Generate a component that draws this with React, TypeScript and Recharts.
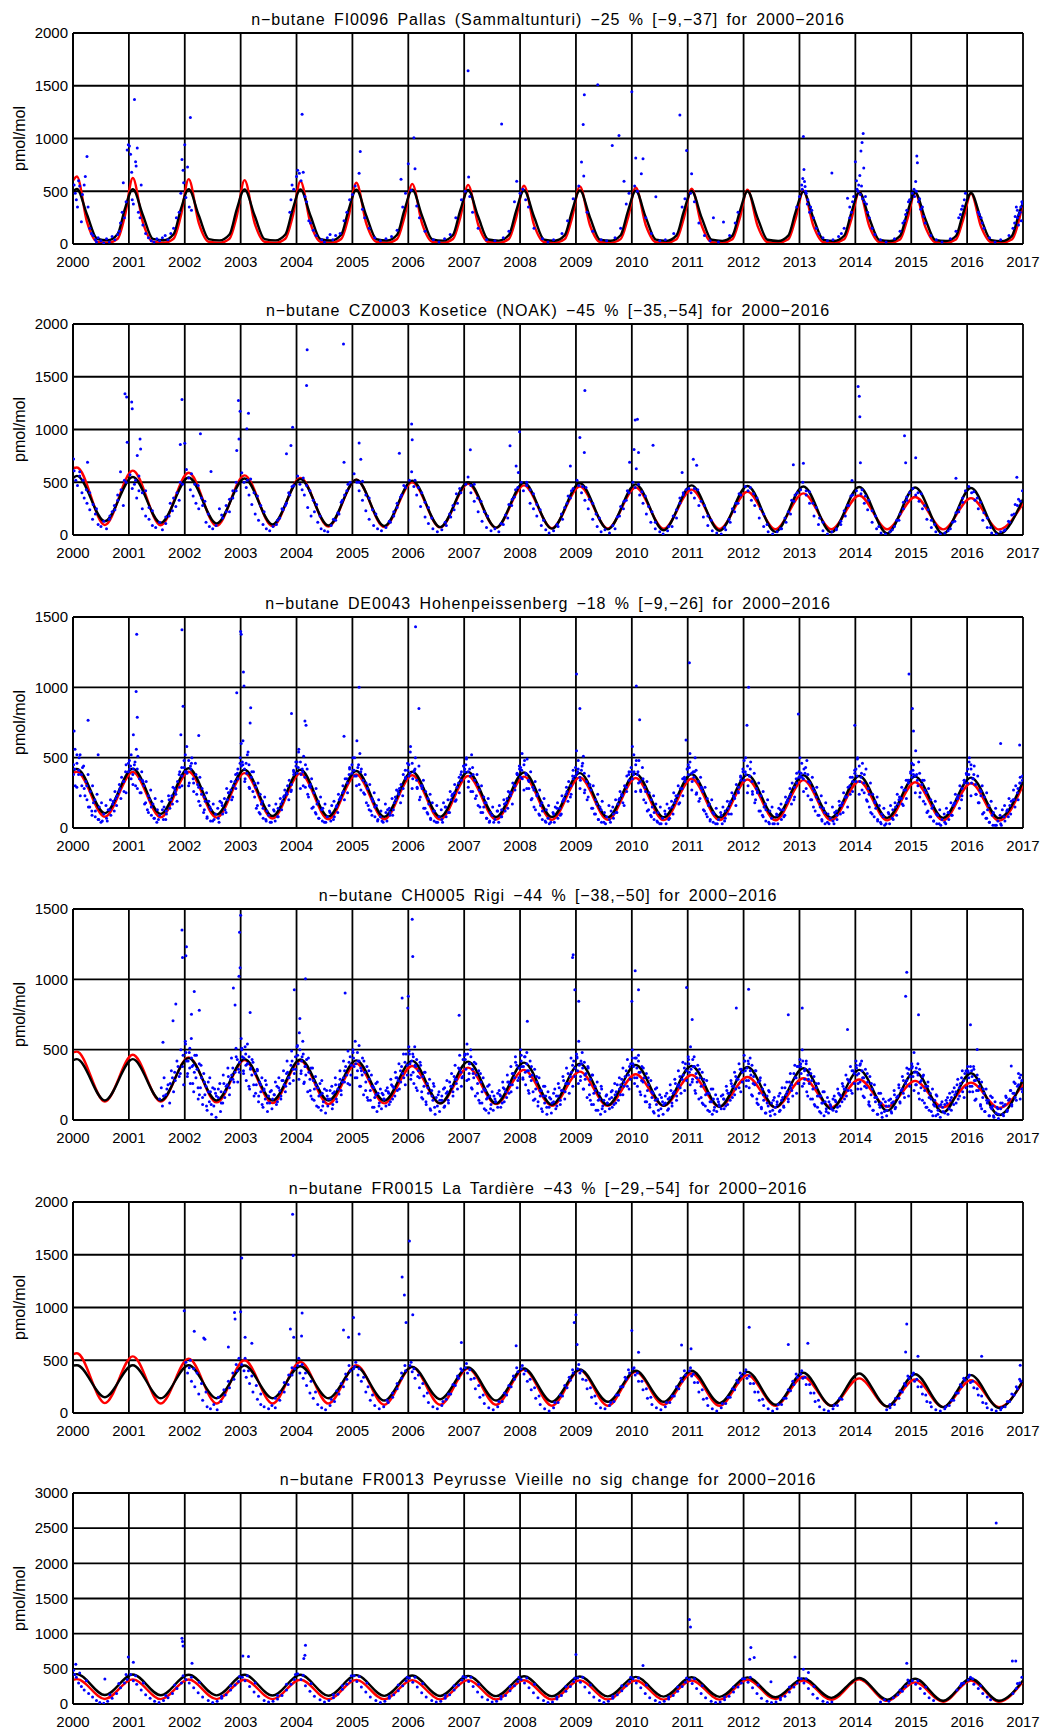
import React from "react";
import {
  ComposedChart,
  Scatter,
  Line,
  XAxis,
  YAxis,
  CartesianGrid,
} from "recharts";

// years of the fitted curves and x-axis ticks
const YEARS = [2000, 2001, 2002, 2003, 2004, 2005, 2006, 2007, 2008, 2009, 2010, 2011, 2012, 2013, 2014, 2015, 2016];
const YEAR_TICKS = [2000, 2001, 2002, 2003, 2004, 2005, 2006, 2007, 2008, 2009, 2010, 2011, 2012, 2013, 2014, 2015, 2016, 2017];

// sample positions within a year for the curves (fraction of the year)
const FI_PHASES = [0.07, 0.25, 0.43, 0.62, 0.8, 0.93];
const SINE_PHASES = [0.07, 0.57];

// ---------- FI0096 Pallas ----------
const fiBlack = [
  [522, 280, 50, 35, 95, 335], [520, 275, 48, 35, 92, 330], [520, 272, 47, 34, 90, 328], [518, 270, 46, 34, 90, 325],
  [518, 268, 45, 33, 88, 322], [515, 265, 45, 33, 88, 320], [515, 262, 44, 32, 86, 318], [512, 260, 43, 32, 85, 315],
  [510, 258, 42, 31, 84, 312], [508, 255, 42, 31, 83, 310], [505, 252, 41, 30, 82, 308], [502, 250, 40, 30, 80, 305],
  [500, 248, 40, 29, 80, 302], [496, 245, 39, 29, 78, 300], [492, 242, 38, 28, 77, 297], [488, 240, 38, 28, 76, 294],
  [484, 237, 37, 27, 75, 290],
];
const fiRed = [
  [640, 210, 22, 12, 50, 270], [625, 205, 22, 12, 50, 265], [615, 200, 21, 12, 50, 262], [605, 198, 21, 12, 50, 258],
  [595, 195, 20, 12, 48, 255], [580, 190, 20, 12, 48, 252], [570, 188, 20, 12, 47, 250], [560, 185, 19, 12, 47, 248],
  [552, 182, 19, 12, 46, 246], [545, 180, 19, 12, 46, 244], [535, 178, 18, 12, 45, 242], [525, 175, 18, 12, 45, 240],
  [515, 172, 18, 12, 44, 238], [505, 170, 17, 12, 44, 236], [495, 168, 17, 12, 43, 234], [485, 165, 17, 12, 43, 232],
  [478, 162, 16, 12, 42, 230],
];
const fiEnds = { black: [500, 395], red: [600, 405] };
const fiDots = [
  [2000.02,560],[2000.04,480],[2000.06,420],[2000.08,350],[2000.1,600],[2000.12,550],[2000.15,210],[2000.17,470],[2000.2,560],[2000.22,640],[2000.25,830],[2000.27,350],[2000.3,150],[2000.33,100],[2000.36,80],[2000.4,40],[2000.42,20],[2000.45,60],[2000.5,30],[2000.55,10],[2000.6,50],[2000.65,20],[2000.7,70],[2000.75,40],[2000.8,90],[2000.83,120],[2000.85,200],[2000.88,300],[2000.9,580],[2000.92,250],[2000.95,400],[2000.97,890],[2000.99,940],
  [2001.01,930],[2001.03,850],[2001.05,680],[2001.06,420],[2001.08,380],[2001.1,1370],[2001.12,780],[2001.13,740],[2001.15,910],[2001.17,300],[2001.2,250],[2001.22,560],[2001.25,180],[2001.3,100],[2001.35,60],[2001.4,30],[2001.45,20],[2001.5,50],[2001.55,30],[2001.6,60],[2001.65,80],[2001.7,40],[2001.75,100],[2001.8,150],[2001.85,250],[2001.9,300],[2001.93,480],[2001.95,800],[2001.97,700],[2001.98,580],
  [2002.0,940],[2002.02,440],[2002.05,730],[2002.08,350],[2002.1,1200],[2002.12,320],
  [2003.88,300],[2003.9,420],[2003.92,560],[2003.95,520],[2004.0,640],[2004.02,700],[2004.05,670],[2004.08,600],[2004.1,1230],[2004.12,680],[2004.15,450],[2004.18,400],[2004.22,220],[2004.25,200],[2004.3,130],[2004.35,80],[2004.45,40],[2004.5,20],[2004.55,60],[2004.6,90],[2004.65,40],[2004.7,80],[2004.78,100],[2004.85,220],[2004.9,300],[2004.95,420],
  [2005.0,470],[2005.05,550],[2005.12,670],[2005.14,877],[2005.18,330],[2005.22,250],[2005.3,150],[2005.4,60],[2005.5,30],[2005.6,50],[2005.7,70],[2005.8,130],[2005.87,613],[2005.9,350],[2005.95,480],
  [2006.0,761],[2006.05,510],[2006.1,1006],[2006.12,714],[2006.15,360],[2006.2,250],[2006.3,120],[2006.45,40],[2006.55,20],[2006.65,50],[2006.75,90],[2006.85,250],[2006.95,420],
  [2007.02,500],[2007.07,1642],[2007.08,635],[2007.1,450],[2007.15,300],[2007.25,150],[2007.4,40],[2007.55,30],[2007.67,1138],[2007.7,60],[2007.8,120],[2007.9,400],[2007.94,594],
  [2008.0,480],[2008.05,520],[2008.1,420],[2008.15,350],[2008.25,150],[2008.4,50],[2008.5,20],[2008.6,40],[2008.75,100],[2008.85,220],[2008.95,430],
  [2009.05,550],[2009.1,777],[2009.13,1132],[2009.14,645],[2009.15,1415],[2009.2,300],[2009.3,120],[2009.39,1510],[2009.45,40],[2009.55,30],[2009.65,934],[2009.7,60],[2009.77,1028],[2009.8,150],[2009.86,594],[2009.9,380],[2009.95,480],
  [2010.0,1443],[2010.05,550],[2010.07,815],[2010.1,500],[2010.17,667],[2010.2,808],[2010.25,250],[2010.35,100],[2010.43,447],[2010.5,30],[2010.6,40],[2010.75,100],[2010.86,1223],[2010.9,350],[2010.95,430],[2010.98,887],
  [2011.05,480],[2011.07,667],[2011.12,400],[2011.2,200],[2011.3,80],[2011.4,30],[2011.46,250],[2011.55,20],[2011.64,208],[2011.75,80],[2011.85,200],[2011.9,300],
  [2012.95,350],[2013.0,450],[2013.05,520],[2013.07,1019],[2013.08,705],[2013.09,593],[2013.1,545],[2013.12,480],[2013.15,420],[2013.2,350],[2013.25,250],[2013.3,150],[2013.35,100],[2013.42,60],[2013.5,30],[2013.58,673],[2013.6,40],[2013.7,70],[2013.75,100],[2013.8,150],[2013.86,433],[2013.9,350],[2013.95,400],
  [2014.0,779],[2014.02,600],[2014.05,500],[2014.08,650],[2014.1,881],[2014.12,961],[2014.14,1048],[2014.15,721],[2014.18,450],[2014.2,380],[2014.25,250],[2014.3,150],[2014.35,90],[2014.45,40],[2014.55,20],[2014.7,50],[2014.8,120],[2014.85,200],[2014.9,280],[2014.95,400],
  [2015.05,520],[2015.08,593],[2015.1,833],[2015.11,769],[2015.15,430],[2015.2,350],[2015.25,200],[2015.35,80],[2015.45,40],[2015.55,20],[2015.7,50],[2015.8,120],[2015.85,250],[2015.9,330],[2015.95,420],
  [2016.2,300],[2016.25,250],[2016.3,150],[2016.4,60],[2016.5,20],[2016.6,40],[2016.75,80],[2016.82,150],[2016.85,200],[2016.88,350],[2016.9,250],[2016.92,180],[2016.95,300],[2016.97,220],[2016.98,400],
  [2013.04,560],[2013.06,620],[2013.11,500],[2013.14,380],[2013.18,300],[2013.22,320],[2013.9,250],[2013.93,300],[2013.97,450],[2014.03,520],[2014.06,560],[2014.09,470],[2014.11,550],[2014.13,430],[2014.16,400],[2014.22,300],[2014.88,220],[2014.92,320],[2014.97,420],[2015.02,480],[2015.06,450],[2015.09,500],[2015.13,400],[2015.17,330],[2015.22,260],[2015.88,280],[2015.92,360],[2015.97,480],[2016.22,280],[2016.27,200],[2016.86,260],[2016.9,320],[2016.93,280],[2016.96,350],[2016.99,380],
];

// ---------- CZ0003 Kosetice ----------
const czBlackPeaks = [560, 550, 545, 535, 530, 525, 515, 500, 495, 490, 480, 470, 465, 460, 455, 450, 445];
const czBlackTroughs = [130, 115, 110, 100, 90, 85, 75, 70, 60, 55, 45, 40, 30, 25, 15, 10, 10];
const czRedPeaks = [640, 610, 590, 565, 540, 525, 500, 485, 470, 460, 450, 430, 410, 395, 375, 360, 350];
const czRedTroughs = [95, 92, 88, 84, 80, 76, 72, 68, 64, 62, 60, 58, 56, 55, 54, 53, 52];
const czEnds = { black: [540, 340], red: [635, 300] };
const czDots = [
  [2000.02,610],[2000.05,520],[2000.08,470],[2000.12,560],[2000.16,400],[2000.2,350],[2000.25,300],[2000.3,240],[2000.35,150],[2000.4,200],[2000.45,100],[2000.5,80],[2000.55,130],[2000.6,60],[2000.65,150],[2000.7,220],[2000.75,240],[2000.8,380],[2000.85,600],[2000.9,280],[2000.95,500],
  [2001.02,570],[2001.06,440],[2001.1,480],[2001.14,350],[2001.18,420],[2001.24,250],[2001.3,180],[2001.36,150],[2001.42,90],[2001.48,70],[2001.55,120],[2001.6,50],[2001.66,110],[2001.72,180],[2001.78,230],[2001.84,270],[2001.9,330],[2001.96,480],
  [2002.03,620],[2002.07,540],[2002.1,430],[2002.15,370],[2002.2,300],[2002.25,250],[2002.32,280],[2002.38,120],[2002.44,80],[2002.5,60],[2002.56,90],[2002.62,250],[2002.68,160],[2002.74,280],[2002.8,220],[2002.86,350],[2002.92,420],
  [2003.02,590],[2003.06,500],[2003.1,450],[2003.15,380],[2003.2,290],[2003.26,200],[2003.32,140],[2003.4,100],[2003.46,60],[2003.52,40],[2003.58,80],[2003.64,100],[2003.7,160],[2003.76,240],[2003.82,300],[2003.88,380],[2003.95,470],
  [2004.02,560],[2004.06,480],[2004.1,430],[2004.14,380],[2004.2,260],[2004.26,180],[2004.32,220],[2004.38,120],[2004.44,60],[2004.5,40],[2004.56,30],[2004.62,90],[2004.7,140],[2004.76,200],[2004.82,330],[2004.9,420],[2004.96,500],
  [2005.03,580],[2005.08,500],[2005.12,420],[2005.18,330],[2005.24,230],[2005.3,150],[2005.38,90],[2005.45,60],[2005.52,40],[2005.6,70],[2005.68,120],[2005.74,180],[2005.8,260],[2005.88,380],[2005.95,450],
  [2006.02,520],[2006.06,600],[2006.1,460],[2006.15,380],[2006.22,270],[2006.3,170],[2006.36,110],[2006.44,60],[2006.52,30],[2006.6,50],[2006.68,90],[2006.76,170],[2006.82,240],[2006.88,300],[2006.94,400],
  [2007.03,480],[2007.07,550],[2007.12,400],[2007.18,320],[2007.25,220],[2007.32,130],[2007.4,70],[2007.48,40],[2007.55,60],[2007.62,30],[2007.7,100],[2007.78,160],[2007.85,280],[2007.9,360],[2007.96,450],
  [2008.02,500],[2008.06,420],[2008.12,470],[2008.18,300],[2008.24,250],[2008.3,180],[2008.38,90],[2008.46,50],[2008.52,20],[2008.6,40],[2008.68,80],[2008.76,150],[2008.84,300],[2008.9,350],[2008.95,440],
  [2009.02,520],[2009.05,470],[2009.1,400],[2009.16,330],[2009.22,250],[2009.3,150],[2009.38,80],[2009.45,30],[2009.52,50],[2009.6,20],[2009.7,60],[2009.78,180],[2009.85,250],[2009.9,330],[2009.95,400],
  [2010.02,500],[2010.06,450],[2010.14,380],[2010.2,300],[2010.26,200],[2010.34,120],[2010.42,60],[2010.5,30],[2010.56,10],[2010.64,40],[2010.72,80],[2010.8,160],[2010.86,300],[2010.92,380],[2010.97,430],
  [2011.02,440],[2011.06,400],[2011.12,350],[2011.2,280],[2011.28,170],[2011.36,90],[2011.44,40],[2011.52,20],[2011.6,10],[2011.68,50],[2011.76,120],[2011.84,220],[2011.9,300],[2011.95,380],
  [2012.03,460],[2012.08,420],[2012.14,330],[2012.2,280],[2012.28,160],[2012.36,80],[2012.44,30],[2012.52,10],[2012.6,30],[2012.68,60],[2012.76,120],[2012.84,200],[2012.9,320],[2012.96,400],
  [2013.02,430],[2013.06,500],[2013.12,380],[2013.18,300],[2013.26,180],[2013.34,100],[2013.42,40],[2013.5,10],[2013.58,30],[2013.66,60],[2013.74,100],[2013.82,180],[2013.88,280],[2013.95,380],
  [2014.02,420],[2014.1,390],[2014.16,300],[2014.22,240],[2014.3,120],[2014.38,60],[2014.46,20],[2014.54,10],[2014.62,30],[2014.7,80],[2014.78,140],[2014.86,250],[2014.92,330],[2014.97,400],
  [2015.03,440],[2015.08,380],[2015.14,320],[2015.2,250],[2015.28,150],[2015.36,70],[2015.44,30],[2015.52,10],[2015.6,20],[2015.7,60],[2015.78,130],[2015.85,220],[2015.92,310],[2015.97,420],
  [2016.03,460],[2016.08,400],[2016.14,330],[2016.2,250],[2016.28,140],[2016.36,70],[2016.44,20],[2016.52,10],[2016.6,30],[2016.68,50],[2016.76,120],[2016.84,200],[2016.9,280],[2016.95,320],[2016.99,420],
  // upper side of the cloud
  [2000.12,600],[2000.18,520],[2000.24,430],[2000.3,400],[2000.36,290],[2000.42,250],[2000.66,180],[2000.74,280],[2000.8,330],[2000.86,430],[2000.92,520],
  [2001.12,520],[2001.18,560],[2001.24,400],[2001.3,420],[2001.36,260],[2001.42,230],[2001.66,170],[2001.74,300],[2001.8,350],[2001.86,400],[2001.92,500],
  [2002.12,580],[2002.18,480],[2002.24,470],[2002.3,350],[2002.36,320],[2002.42,200],[2002.66,190],[2002.74,220],[2002.8,340],[2002.86,420],[2002.92,500],
  [2003.12,520],[2003.18,530],[2003.24,400],[2003.3,370],[2003.36,280],[2003.42,220],[2003.66,140],[2003.74,250],[2003.8,280],[2003.86,400],[2003.92,460],
  [2004.12,540],[2004.18,470],[2004.24,420],[2004.3,330],[2004.36,290],[2004.42,180],[2004.66,150],[2004.74,210],[2004.8,310],[2004.86,380],[2004.92,480],
  [2005.12,500],[2005.18,510],[2005.24,380],[2005.3,350],[2005.36,240],[2005.42,200],[2005.66,130],[2005.74,220],[2005.8,300],[2005.86,360],[2005.92,470],
  [2006.12,520],[2006.18,450],[2006.24,400],[2006.3,310],[2006.36,260],[2006.42,160],[2006.66,120],[2006.74,200],[2006.8,280],[2006.86,390],[2006.92,440],
  [2007.12,470],[2007.18,480],[2007.24,350],[2007.3,320],[2007.36,220],[2007.42,180],[2007.66,110],[2007.74,190],[2007.8,290],[2007.86,340],[2007.92,430],
  [2008.12,500],[2008.18,430],[2008.24,390],[2008.3,290],[2008.36,240],[2008.42,140],[2008.66,100],[2008.74,200],[2008.8,260],[2008.86,370],[2008.92,420],
  [2009.12,460],[2009.18,450],[2009.24,340],[2009.3,300],[2009.36,200],[2009.42,160],[2009.66,90],[2009.74,170],[2009.8,270],[2009.86,320],[2009.92,420],
  [2010.12,480],[2010.18,410],[2010.24,370],[2010.3,270],[2010.36,220],[2010.42,120],[2010.66,80],[2010.74,180],[2010.8,240],[2010.86,350],[2010.92,400],
  [2011.12,440],[2011.18,430],[2011.24,320],[2011.3,280],[2011.36,180],[2011.42,140],[2011.66,70],[2011.74,150],[2011.8,250],[2011.86,300],[2011.92,390],
  [2012.12,450],[2012.18,390],[2012.24,350],[2012.3,250],[2012.36,200],[2012.42,100],[2012.66,60],[2012.74,160],[2012.8,220],[2012.86,330],[2012.92,380],
  [2013.12,420],[2013.18,410],[2013.24,300],[2013.3,260],[2013.36,160],[2013.42,120],[2013.66,50],[2013.74,130],[2013.8,230],[2013.86,280],[2013.92,370],
  [2014.12,430],[2014.18,370],[2014.24,330],[2014.3,230],[2014.36,180],[2014.42,80],[2014.66,50],[2014.74,140],[2014.8,200],[2014.86,310],[2014.92,360],
  [2015.12,400],[2015.18,390],[2015.24,280],[2015.3,240],[2015.36,140],[2015.42,100],[2015.66,40],[2015.74,120],[2015.8,210],[2015.86,260],[2015.92,350],
  [2016.12,410],[2016.18,350],[2016.24,310],[2016.3,210],[2016.36,160],[2016.42,70],[2016.66,40],[2016.74,130],[2016.8,190],[2016.86,290],[2016.92,340],
  // high values
  [2000.93,1339],[2000.96,1307],[2001.05,1260],[2001.06,1196],[2000.97,880],[2001.2,911],[2001.21,816],[2001.15,753],[2001.95,1285],[2002.0,870],[2001.92,858],[2002.28,959],[2002.47,601],[2002.96,1275],[2002.99,1174],[2002.97,911],[2002.93,800],[2003.14,1155],[2003.11,1006],[2003.82,769],[2003.93,1022],[2004.19,1757],[2004.18,1418],[2003.9,848],[2004.84,1810],[2004.85,690],[2000.26,690],[2000.01,721],
  [2006.06,1053],[2006.07,904],[2005.12,873],[2005.15,718],[2005.84,776],[2007.11,807],[2007.82,845],[2007.99,979],[2007.93,655],[2007.97,593],[2009.16,1370],[2009.07,925],[2009.15,781],[2008.9,655],[2010.1,1097],[2010.06,1090],[2010.04,810],[2010.12,781],[2010.38,851],[2009.96,689],[2010.08,627],[2010.9,593],[2011.16,662],[2011.1,718],[2012.89,665],[2013.07,680],[2014.05,1407],[2014.07,1314],[2014.08,1121],[2014.09,684],[2014.88,940],[2015.08,733],[2014.9,684],[2013.94,516],[2015.8,538],[2016.89,547],
];

// ---------- DE0043 Hohenpeissenberg ----------
const deBlackPeaks = [420, 421, 425, 414, 414, 405, 400, 398, 395, 390, 385, 382, 378, 375, 370, 365, 358];
const deBlackTroughs = [105, 100, 95, 85, 82, 80, 80, 78, 78, 76, 76, 75, 75, 74, 72, 72, 70];
const deRedPeaks = [400, 398, 400, 390, 388, 380, 375, 370, 365, 360, 355, 350, 345, 340, 332, 325, 318];
const deRedTroughs = [80, 76, 74, 68, 62, 62, 60, 60, 58, 58, 56, 56, 55, 55, 54, 54, 52];
const deEnds = { black: [410, 330], red: [390, 305] };
const deDots = [
  [2000.01,450],[2000.04,300],[2000.07,520],[2000.1,380],[2000.13,230],[2000.17,430],[2000.2,280],[2000.25,200],[2000.3,150],[2000.34,90],[2000.4,120],[2000.45,60],[2000.5,40],[2000.55,100],[2000.6,70],[2000.66,130],[2000.72,190],[2000.78,160],[2000.84,280],[2000.9,330],[2000.95,250],
  [2001.01,480],[2001.04,350],[2001.08,420],[2001.12,300],[2001.16,510],[2001.2,250],[2001.25,330],[2001.3,180],[2001.35,110],[2001.4,150],[2001.45,70],[2001.5,40],[2001.55,90],[2001.6,130],[2001.66,60],[2001.72,200],[2001.78,170],[2001.84,240],[2001.9,380],[2001.95,300],
  [2002.01,520],[2002.04,390],[2002.08,320],[2002.12,460],[2002.16,260],[2002.2,380],[2002.25,190],[2002.3,240],[2002.35,130],[2002.4,80],[2002.45,150],[2002.5,50],[2002.55,100],[2002.6,70],[2002.66,180],[2002.72,130],[2002.78,250],[2002.84,200],[2002.9,330],[2002.95,420],
  [2003.01,600],[2003.04,450],[2003.08,350],[2003.12,520],[2003.16,280],[2003.2,400],[2003.25,220],[2003.3,160],[2003.35,100],[2003.4,140],[2003.45,60],[2003.5,90],[2003.55,40],[2003.6,120],[2003.66,80],[2003.72,170],[2003.78,230],[2003.84,300],[2003.9,260],[2003.95,380],
  [2004.01,470],[2004.04,560],[2004.08,380],[2004.12,300],[2004.16,450],[2004.2,240],[2004.25,310],[2004.3,150],[2004.35,100],[2004.4,70],[2004.45,130],[2004.5,40],[2004.55,80],[2004.6,110],[2004.66,60],[2004.72,160],[2004.78,210],[2004.84,260],[2004.9,350],[2004.95,420],
  [2005.01,500],[2005.04,370],[2005.08,620],[2005.12,310],[2005.16,420],[2005.2,250],[2005.25,180],[2005.3,130],[2005.35,90],[2005.4,150],[2005.45,50],[2005.5,80],[2005.55,40],[2005.6,110],[2005.66,140],[2005.72,90],[2005.78,200],[2005.84,280],[2005.9,230],[2005.95,360],
  [2006.01,450],[2006.04,580],[2006.08,350],[2006.12,420],[2006.16,280],[2006.2,200],[2006.25,300],[2006.3,140],[2006.35,100],[2006.4,60],[2006.45,120],[2006.5,40],[2006.55,80],[2006.6,60],[2006.66,150],[2006.72,110],[2006.78,230],[2006.84,190],[2006.9,320],[2006.95,400],
  [2007.01,420],[2007.04,500],[2007.08,330],[2007.12,260],[2007.16,380],[2007.2,210],[2007.25,160],[2007.3,110],[2007.35,150],[2007.4,70],[2007.45,40],[2007.5,90],[2007.55,60],[2007.6,120],[2007.66,80],[2007.72,170],[2007.78,140],[2007.84,250],[2007.9,300],[2007.95,380],
  [2008.01,430],[2008.04,350],[2008.08,480],[2008.12,280],[2008.16,330],[2008.2,200],[2008.25,150],[2008.3,230],[2008.35,90],[2008.4,120],[2008.45,50],[2008.5,70],[2008.55,40],[2008.6,100],[2008.66,140],[2008.72,90],[2008.78,200],[2008.84,260],[2008.9,220],[2008.95,350],
  [2009.01,550],[2009.04,420],[2009.08,340],[2009.12,460],[2009.16,270],[2009.2,200],[2009.25,310],[2009.3,140],[2009.35,100],[2009.4,60],[2009.45,130],[2009.5,40],[2009.55,80],[2009.6,60],[2009.66,150],[2009.72,110],[2009.78,210],[2009.84,180],[2009.9,290],[2009.95,400],
  [2010.01,580],[2010.04,400],[2010.08,480],[2010.12,320],[2010.16,260],[2010.2,350],[2010.25,180],[2010.3,130],[2010.35,80],[2010.4,110],[2010.45,50],[2010.5,30],[2010.55,70],[2010.6,100],[2010.66,60],[2010.72,150],[2010.78,200],[2010.84,170],[2010.9,280],[2010.95,350],
  [2011.01,450],[2011.04,530],[2011.08,330],[2011.12,400],[2011.16,250],[2011.2,190],[2011.25,280],[2011.3,120],[2011.35,80],[2011.4,50],[2011.45,110],[2011.5,30],[2011.55,60],[2011.6,90],[2011.66,50],[2011.72,140],[2011.78,100],[2011.84,210],[2011.9,260],[2011.95,340],
  [2012.01,480],[2012.04,380],[2012.08,300],[2012.12,420],[2012.16,240],[2012.2,180],[2012.25,260],[2012.3,120],[2012.35,80],[2012.4,130],[2012.45,40],[2012.5,70],[2012.55,30],[2012.6,90],[2012.66,130],[2012.72,80],[2012.78,190],[2012.84,240],[2012.9,200],[2012.95,320],
  [2013.01,500],[2013.04,360],[2013.08,420],[2013.12,280],[2013.16,330],[2013.2,200],[2013.25,150],[2013.3,220],[2013.35,90],[2013.4,60],[2013.45,110],[2013.5,40],[2013.55,70],[2013.6,50],[2013.66,120],[2013.72,160],[2013.78,110],[2013.84,220],[2013.9,300],[2013.95,260],
  [2014.01,420],[2014.04,500],[2014.08,330],[2014.12,270],[2014.16,380],[2014.2,200],[2014.25,150],[2014.3,100],[2014.35,180],[2014.4,60],[2014.45,40],[2014.5,80],[2014.55,30],[2014.6,100],[2014.66,70],[2014.72,150],[2014.78,200],[2014.84,170],[2014.9,270],[2014.95,340],
  [2015.01,460],[2015.04,380],[2015.08,550],[2015.12,300],[2015.16,250],[2015.2,340],[2015.25,170],[2015.3,120],[2015.35,80],[2015.4,50],[2015.45,100],[2015.5,30],[2015.55,60],[2015.6,40],[2015.66,110],[2015.72,90],[2015.78,180],[2015.84,230],[2015.9,200],[2015.95,320],
  [2016.01,420],[2016.04,500],[2016.08,320],[2016.12,380],[2016.16,240],[2016.2,180],[2016.25,260],[2016.3,110],[2016.35,70],[2016.4,40],[2016.45,90],[2016.5,20],[2016.55,50],[2016.6,30],[2016.66,80],[2016.72,130],[2016.78,100],[2016.84,200],[2016.9,250],[2016.95,320],
  // upper side of the cloud
  [2000.03,420],[2000.07,460],[2000.11,500],[2000.15,380],[2000.19,440],[2000.23,330],[2000.27,380],[2000.31,260],[2000.35,300],[2000.39,200],[2000.43,240],[2000.47,150],[2000.51,180],[2000.59,160],[2000.63,130],[2000.67,200],[2000.71,170],[2000.75,260],[2000.79,230],[2000.83,310],[2000.87,360],[2000.91,330],[2000.95,450],[2000.99,400],
  [2001.03,440],[2001.07,380],[2001.11,470],[2001.15,420],[2001.19,350],[2001.23,400],[2001.27,300],[2001.31,330],[2001.35,230],[2001.39,270],[2001.43,170],[2001.47,210],[2001.51,130],[2001.59,190],[2001.63,150],[2001.67,120],[2001.71,230],[2001.75,200],[2001.79,290],[2001.83,260],[2001.87,330],[2001.91,400],[2001.95,370],[2001.99,430],
  [2002.03,400],[2002.07,480],[2002.11,420],[2002.15,350],[2002.19,460],[2002.23,310],[2002.27,360],[2002.31,280],[2002.35,220],[2002.39,250],[2002.43,190],[2002.47,130],[2002.51,170],[2002.59,140],[2002.63,190],[2002.67,160],[2002.71,210],[2002.75,280],[2002.79,250],[2002.83,330],[2002.87,300],[2002.91,380],[2002.95,350],[2002.99,460],
  [2003.03,470],[2003.07,420],[2003.11,390],[2003.15,450],[2003.19,360],[2003.23,400],[2003.27,290],[2003.31,320],[2003.35,240],[2003.39,190],[2003.43,220],[2003.47,120],[2003.51,160],[2003.59,130],[2003.63,170],[2003.67,140],[2003.71,210],[2003.75,190],[2003.79,270],[2003.83,240],[2003.87,340],[2003.91,310],[2003.95,400],[2003.99,440],
  [2004.03,430],[2004.07,470],[2004.11,400],[2004.15,360],[2004.19,420],[2004.23,300],[2004.27,350],[2004.31,250],[2004.35,280],[2004.39,190],[2004.43,220],[2004.47,140],[2004.51,170],[2004.59,120],[2004.63,160],[2004.67,190],[2004.71,150],[2004.75,240],[2004.79,220],[2004.83,300],[2004.87,350],[2004.91,320],[2004.95,430],[2004.99,390],
  [2005.03,410],[2005.07,370],[2005.11,450],[2005.15,400],[2005.19,340],[2005.23,380],[2005.27,280],[2005.31,310],[2005.35,210],[2005.39,250],[2005.43,160],[2005.47,200],[2005.51,120],[2005.59,170],[2005.63,130],[2005.67,110],[2005.71,210],[2005.75,180],[2005.79,270],[2005.83,240],[2005.87,310],[2005.91,380],[2005.95,350],[2005.99,410],
  [2006.03,390],[2006.07,460],[2006.11,410],[2006.15,340],[2006.19,440],[2006.23,300],[2006.27,340],[2006.31,260],[2006.35,210],[2006.39,240],[2006.43,180],[2006.47,120],[2006.51,160],[2006.59,130],[2006.63,180],[2006.67,150],[2006.71,200],[2006.75,260],[2006.79,240],[2006.83,310],[2006.87,290],[2006.91,360],[2006.95,340],[2006.99,440],
  [2007.03,450],[2007.07,400],[2007.11,370],[2007.15,430],[2007.19,340],[2007.23,380],[2007.27,270],[2007.31,300],[2007.35,220],[2007.39,180],[2007.43,210],[2007.47,110],[2007.51,150],[2007.59,120],[2007.63,160],[2007.67,130],[2007.71,200],[2007.75,180],[2007.79,260],[2007.83,230],[2007.87,320],[2007.91,300],[2007.95,380],[2007.99,420],
  [2008.03,410],[2008.07,450],[2008.11,380],[2008.15,340],[2008.19,400],[2008.23,290],[2008.27,330],[2008.31,240],[2008.35,270],[2008.39,180],[2008.43,210],[2008.47,130],[2008.51,160],[2008.59,110],[2008.63,150],[2008.67,180],[2008.71,140],[2008.75,230],[2008.79,210],[2008.83,290],[2008.87,330],[2008.91,300],[2008.95,410],[2008.99,370],
  [2009.03,400],[2009.07,360],[2009.11,440],[2009.15,390],[2009.19,330],[2009.23,370],[2009.27,270],[2009.31,300],[2009.35,200],[2009.39,240],[2009.43,150],[2009.47,190],[2009.51,110],[2009.59,160],[2009.63,120],[2009.67,100],[2009.71,200],[2009.75,170],[2009.79,260],[2009.83,230],[2009.87,300],[2009.91,370],[2009.95,340],[2009.99,400],
  [2010.03,380],[2010.07,450],[2010.11,400],[2010.15,330],[2010.19,430],[2010.23,290],[2010.27,330],[2010.31,250],[2010.35,200],[2010.39,230],[2010.43,170],[2010.47,110],[2010.51,150],[2010.59,120],[2010.63,170],[2010.67,140],[2010.71,190],[2010.75,250],[2010.79,230],[2010.83,300],[2010.87,280],[2010.91,350],[2010.95,330],[2010.99,420],
  [2011.03,430],[2011.07,390],[2011.11,360],[2011.15,410],[2011.19,330],[2011.23,360],[2011.27,260],[2011.31,290],[2011.35,210],[2011.39,170],[2011.43,200],[2011.47,100],[2011.51,140],[2011.59,110],[2011.63,150],[2011.67,120],[2011.71,190],[2011.75,170],[2011.79,250],[2011.83,220],[2011.87,310],[2011.91,290],[2011.95,360],[2011.99,400],
  [2012.03,400],[2012.07,440],[2012.11,370],[2012.15,330],[2012.19,390],[2012.23,280],[2012.27,320],[2012.31,230],[2012.35,260],[2012.39,170],[2012.43,200],[2012.47,120],[2012.51,150],[2012.59,100],[2012.63,140],[2012.67,170],[2012.71,130],[2012.75,220],[2012.79,200],[2012.83,280],[2012.87,320],[2012.91,290],[2012.95,390],[2012.99,360],
  [2013.03,390],[2013.07,350],[2013.11,430],[2013.15,380],[2013.19,320],[2013.23,360],[2013.27,260],[2013.31,290],[2013.35,190],[2013.39,230],[2013.43,140],[2013.47,180],[2013.51,100],[2013.59,150],[2013.63,110],[2013.67,90],[2013.71,190],[2013.75,160],[2013.79,250],[2013.83,220],[2013.87,290],[2013.91,360],[2013.95,330],[2013.99,390],
  [2014.03,370],[2014.07,440],[2014.11,390],[2014.15,320],[2014.19,420],[2014.23,280],[2014.27,320],[2014.31,240],[2014.35,190],[2014.39,220],[2014.43,160],[2014.47,100],[2014.51,140],[2014.59,110],[2014.63,160],[2014.67,130],[2014.71,180],[2014.75,240],[2014.79,220],[2014.83,290],[2014.87,270],[2014.91,340],[2014.95,320],[2014.99,400],
  [2015.03,410],[2015.07,370],[2015.11,340],[2015.15,390],[2015.19,310],[2015.23,340],[2015.27,250],[2015.31,280],[2015.35,200],[2015.39,160],[2015.43,190],[2015.47,90],[2015.51,130],[2015.59,100],[2015.63,140],[2015.67,110],[2015.71,180],[2015.75,160],[2015.79,240],[2015.83,210],[2015.87,300],[2015.91,280],[2015.95,340],[2015.99,380],
  [2016.03,380],[2016.07,420],[2016.11,350],[2016.15,310],[2016.19,370],[2016.23,270],[2016.27,300],[2016.31,220],[2016.35,250],[2016.39,160],[2016.43,190],[2016.47,110],[2016.51,140],[2016.59,90],[2016.63,130],[2016.67,160],[2016.71,120],[2016.75,210],[2016.79,190],[2016.83,270],[2016.87,300],[2016.91,280],[2016.95,360],[2016.99,340],
  // high values
  [2001.14,1378],[2001.95,1409],[2003.0,1397],[2003.01,1378],[2003.05,1109],[2003.06,1009],[2002.93,962],[2001.13,971],[2001.97,866],[2000.27,766],[2001.15,788],[2000.02,689],[2003.18,854],[2003.91,814],[2004.17,731],[2004.85,652],[2001.08,663],[2002.25,658],[2000.45,521],[2001.93,663],[2003.17,747],
  [2006.13,1430],[2006.19,850],[2005.12,1000],[2004.15,760],[2009.01,1095],[2009.07,850],[2010.08,1010],[2010.14,770],[2011.03,1175],[2010.97,625],[2012.09,1000],[2012.06,730],[2012.98,810],[2013.99,730],[2014.96,1095],[2015.02,850],[2015.04,690],[2016.07,450],[2016.94,590],[2016.6,600],
];
// denser, looser part of the DE0043 cloud
const deDotsLoose = [
  [2000.009,380],[2000.036,560],[2000.069,290],[2000.102,410],[2000.127,520],[2000.158,300],[2000.214,230],[2000.247,300],[2000.276,150],[2000.337,120],[2000.366,180],[2000.398,80],[2000.462,60],[2000.524,50],[2000.613,50],[2000.677,90],[2000.738,120],[2000.764,210],[2000.823,260],[2000.857,210],[2000.913,260],[2000.941,400],[2000.992,460],
  [2001.014,420],[2001.041,520],[2001.073,310],[2001.098,450],[2001.133,560],[2001.152,280],[2001.219,250],[2001.243,340],[2001.281,170],[2001.331,130],[2001.371,200],[2001.403,90],[2001.457,70],[2001.529,60],[2001.618,60],[2001.672,100],[2001.733,140],[2001.769,230],[2001.818,280],[2001.862,190],[2001.908,290],[2001.946,430],[2001.987,480],
  [2002.009,400],[2002.036,580],[2002.069,300],[2002.102,440],[2002.127,500],[2002.158,320],[2002.214,240],[2002.247,290],[2002.276,160],[2002.337,110],[2002.366,190],[2002.398,70],[2002.462,50],[2002.524,60],[2002.613,40],[2002.677,100],[2002.738,110],[2002.764,200],[2002.823,270],[2002.857,220],[2002.913,280],[2002.941,390],[2002.992,500],
  [2003.014,440],[2003.041,620],[2003.073,330],[2003.098,460],[2003.133,540],[2003.152,290],[2003.219,260],[2003.243,320],[2003.281,140],[2003.331,110],[2003.371,170],[2003.403,70],[2003.457,50],[2003.529,40],[2003.618,50],[2003.672,80],[2003.733,130],[2003.769,220],[2003.818,250],[2003.862,200],[2003.908,270],[2003.946,410],[2003.987,470],
  [2004.009,390],[2004.036,540],[2004.069,280],[2004.102,420],[2004.127,510],[2004.158,290],[2004.214,220],[2004.247,290],[2004.276,140],[2004.337,110],[2004.366,170],[2004.398,70],[2004.462,50],[2004.524,40],[2004.613,50],[2004.677,80],[2004.738,110],[2004.764,200],[2004.823,250],[2004.857,200],[2004.913,250],[2004.941,380],[2004.992,450],
  [2005.014,410],[2005.041,500],[2005.073,300],[2005.098,430],[2005.133,530],[2005.152,270],[2005.219,240],[2005.243,320],[2005.281,160],[2005.331,120],[2005.371,190],[2005.403,80],[2005.457,60],[2005.529,50],[2005.618,50],[2005.672,90],[2005.733,130],[2005.769,220],[2005.818,260],[2005.862,180],[2005.908,280],[2005.946,410],[2005.987,460],
  [2006.009,370],[2006.036,540],[2006.069,280],[2006.102,400],[2006.127,500],[2006.158,290],[2006.214,220],[2006.247,280],[2006.276,140],[2006.337,110],[2006.366,170],[2006.398,70],[2006.462,50],[2006.524,40],[2006.613,40],[2006.677,80],[2006.738,110],[2006.764,200],[2006.823,250],[2006.857,200],[2006.913,250],[2006.941,380],[2006.992,440],
  [2007.014,400],[2007.041,490],[2007.073,290],[2007.098,420],[2007.133,520],[2007.152,260],[2007.219,230],[2007.243,310],[2007.281,150],[2007.331,110],[2007.371,180],[2007.403,70],[2007.457,50],[2007.529,40],[2007.618,40],[2007.672,80],[2007.733,120],[2007.769,210],[2007.818,250],[2007.862,170],[2007.908,270],[2007.946,390],[2007.987,440],
  [2008.009,360],[2008.036,530],[2008.069,270],[2008.102,390],[2008.127,490],[2008.158,280],[2008.214,210],[2008.247,270],[2008.276,130],[2008.337,100],[2008.366,160],[2008.398,60],[2008.462,40],[2008.524,30],[2008.613,40],[2008.677,70],[2008.738,100],[2008.764,190],[2008.823,240],[2008.857,190],[2008.913,240],[2008.941,370],[2008.992,430],
  [2009.014,390],[2009.041,480],[2009.073,280],[2009.098,410],[2009.133,510],[2009.152,250],[2009.219,220],[2009.243,300],[2009.281,140],[2009.331,100],[2009.371,170],[2009.403,60],[2009.457,40],[2009.529,30],[2009.618,40],[2009.672,70],[2009.733,110],[2009.769,200],[2009.818,240],[2009.862,160],[2009.908,260],[2009.946,380],[2009.987,430],
  [2010.009,350],[2010.036,520],[2010.069,260],[2010.102,380],[2010.127,480],[2010.158,270],[2010.214,200],[2010.247,260],[2010.276,120],[2010.337,90],[2010.366,150],[2010.398,60],[2010.462,40],[2010.524,30],[2010.613,30],[2010.677,70],[2010.738,100],[2010.764,180],[2010.823,230],[2010.857,180],[2010.913,230],[2010.941,360],[2010.992,420],
  [2011.014,380],[2011.041,470],[2011.073,270],[2011.098,400],[2011.133,500],[2011.152,240],[2011.219,210],[2011.243,290],[2011.281,130],[2011.331,100],[2011.371,160],[2011.403,60],[2011.457,40],[2011.529,30],[2011.618,30],[2011.672,70],[2011.733,100],[2011.769,190],[2011.818,230],[2011.862,160],[2011.908,250],[2011.946,370],[2011.987,420],
  [2012.009,340],[2012.036,500],[2012.069,250],[2012.102,370],[2012.127,470],[2012.158,260],[2012.214,200],[2012.247,250],[2012.276,120],[2012.337,90],[2012.366,150],[2012.398,50],[2012.462,30],[2012.524,30],[2012.613,30],[2012.677,60],[2012.738,90],[2012.764,180],[2012.823,220],[2012.857,170],[2012.913,220],[2012.941,350],[2012.992,400],
  [2013.014,370],[2013.041,460],[2013.073,260],[2013.098,390],[2013.133,480],[2013.152,230],[2013.219,200],[2013.243,280],[2013.281,120],[2013.331,90],[2013.371,150],[2013.403,50],[2013.457,30],[2013.529,30],[2013.618,30],[2013.672,60],[2013.733,100],[2013.769,180],[2013.818,220],[2013.862,150],[2013.908,240],[2013.946,360],[2013.987,410],
  [2014.009,330],[2014.036,490],[2014.069,240],[2014.102,360],[2014.127,460],[2014.158,250],[2014.214,190],[2014.247,240],[2014.276,110],[2014.337,80],[2014.366,140],[2014.398,50],[2014.462,30],[2014.524,20],[2014.613,30],[2014.677,60],[2014.738,90],[2014.764,170],[2014.823,210],[2014.857,160],[2014.913,210],[2014.941,340],[2014.992,390],
  [2015.014,360],[2015.041,450],[2015.073,250],[2015.098,380],[2015.133,470],[2015.152,220],[2015.219,190],[2015.243,270],[2015.281,110],[2015.331,80],[2015.371,140],[2015.403,50],[2015.457,30],[2015.529,20],[2015.618,30],[2015.672,60],[2015.733,90],[2015.769,170],[2015.818,210],[2015.862,140],[2015.908,230],[2015.946,340],[2015.987,390],
  [2016.009,320],[2016.036,470],[2016.069,230],[2016.102,350],[2016.127,440],[2016.158,240],[2016.214,180],[2016.247,230],[2016.276,100],[2016.337,70],[2016.366,130],[2016.398,40],[2016.462,20],[2016.524,20],[2016.613,20],[2016.677,50],[2016.738,80],[2016.764,160],[2016.823,200],[2016.857,150],[2016.913,200],[2016.941,320],[2016.992,370],
];

// ---------- CH0005 Rigi ----------
const chBlackPeaks = [433, 433, 440, 433, 430, 424, 420, 415, 408, 401, 391, 384, 377, 368, 356, 344, 332];
const chBlackTroughs = [139, 139, 139, 139, 138, 137, 118, 118, 108, 106, 101, 94, 90, 78, 66, 54, 35];
const chRedPeaks = [486, 464, 445, 426, 420, 401, 384, 372, 356, 344, 325, 320, 306, 297, 288, 278, 266];
const chRedTroughs = [132, 132, 125, 120, 113, 118, 118, 113, 101, 101, 101, 94, 90, 90, 94, 90, 85];
const chEnds = { black: [425, 290], red: [480, 254] };
const chDots = [
  [2001.55,150],[2001.58,230],[2001.6,100],[2001.63,300],[2001.66,180],[2001.7,250],[2001.73,120],[2001.76,350],[2001.8,200],[2001.83,280],[2001.86,420],[2001.9,310],[2001.93,500],[2001.96,380],[2001.98,250],
  [2002.01,560],[2002.03,420],[2002.05,330],[2002.08,480],[2002.1,260],[2002.13,380],[2002.16,200],[2002.2,300],[2002.24,150],[2002.28,230],[2002.32,110],[2002.36,180],[2002.4,70],[2002.44,130],[2002.48,40],[2002.52,100],[2002.56,20],[2002.6,160],[2002.64,60],[2002.68,120],[2002.72,200],[2002.76,250],[2002.8,180],[2002.84,320],[2002.88,270],[2002.92,450],[2002.96,360],
  [2003.01,580],[2003.03,450],[2003.05,350],[2003.08,520],[2003.1,280],[2003.13,400],[2003.16,220],[2003.2,320],[2003.24,170],[2003.28,250],[2003.32,130],[2003.36,200],[2003.4,90],[2003.44,150],[2003.48,60],[2003.52,120],[2003.56,80],[2003.6,180],[2003.64,110],[2003.68,230],[2003.72,150],[2003.76,280],[2003.8,200],[2003.84,340],[2003.88,260],[2003.92,420],[2003.96,330],
  [2004.01,520],[2004.03,400],[2004.05,620],[2004.08,330],[2004.1,450],[2004.13,260],[2004.16,380],[2004.2,200],[2004.24,290],[2004.28,150],[2004.32,220],[2004.36,100],[2004.4,170],[2004.44,70],[2004.48,130],[2004.52,50],[2004.56,100],[2004.6,150],[2004.64,80],[2004.68,200],[2004.72,130],[2004.76,250],[2004.8,180],[2004.84,300],[2004.88,380],[2004.92,260],[2004.96,450],
  [2005.01,480],[2005.03,380],[2005.05,560],[2005.08,300],[2005.1,420],[2005.13,240],[2005.16,350],[2005.2,180],[2005.24,270],[2005.28,140],[2005.32,210],[2005.36,90],[2005.4,160],[2005.44,60],[2005.48,120],[2005.52,80],[2005.56,150],[2005.6,100],[2005.64,200],[2005.68,130],[2005.72,240],[2005.76,170],[2005.8,300],[2005.84,220],[2005.88,380],[2005.92,300],[2005.96,470],
  [2006.01,520],[2006.03,400],[2006.05,320],[2006.08,470],[2006.1,260],[2006.13,380],[2006.16,210],[2006.2,300],[2006.24,160],[2006.28,240],[2006.32,110],[2006.36,190],[2006.4,70],[2006.44,140],[2006.48,40],[2006.52,100],[2006.56,60],[2006.6,140],[2006.64,90],[2006.68,190],[2006.72,120],[2006.76,240],[2006.8,170],[2006.84,290],[2006.88,220],[2006.92,360],[2006.96,300],
  [2007.01,460],[2007.03,360],[2007.05,540],[2007.08,290],[2007.1,400],[2007.13,230],[2007.16,330],[2007.2,170],[2007.24,260],[2007.28,120],[2007.32,200],[2007.36,80],[2007.4,150],[2007.44,50],[2007.48,110],[2007.52,70],[2007.56,130],[2007.6,90],[2007.64,180],[2007.68,120],[2007.72,220],[2007.76,160],[2007.8,270],[2007.84,200],[2007.88,330],[2007.92,410],[2007.96,280],
  [2008.01,500],[2008.03,380],[2008.05,300],[2008.08,450],[2008.1,250],[2008.13,350],[2008.16,190],[2008.2,280],[2008.24,140],[2008.28,220],[2008.32,100],[2008.36,170],[2008.4,60],[2008.44,120],[2008.48,40],[2008.52,90],[2008.56,50],[2008.6,130],[2008.64,80],[2008.68,170],[2008.72,110],[2008.76,210],[2008.8,150],[2008.84,260],[2008.88,190],[2008.92,340],[2008.96,420],
  [2009.01,470],[2009.03,350],[2009.05,560],[2009.08,280],[2009.1,400],[2009.13,220],[2009.16,320],[2009.2,160],[2009.24,250],[2009.28,110],[2009.32,190],[2009.36,70],[2009.4,140],[2009.44,40],[2009.48,100],[2009.52,60],[2009.56,120],[2009.6,80],[2009.64,160],[2009.68,110],[2009.72,200],[2009.76,140],[2009.8,250],[2009.84,180],[2009.88,310],[2009.92,240],[2009.96,380],
  [2010.01,500],[2010.03,380],[2010.05,300],[2010.08,440],[2010.1,240],[2010.13,340],[2010.16,180],[2010.2,270],[2010.24,130],[2010.28,210],[2010.32,90],[2010.36,160],[2010.4,50],[2010.44,110],[2010.48,30],[2010.52,80],[2010.56,40],[2010.6,120],[2010.64,70],[2010.68,160],[2010.72,100],[2010.76,200],[2010.8,140],[2010.84,250],[2010.88,190],[2010.92,320],[2010.96,400],
  [2011.01,450],[2011.03,340],[2011.05,520],[2011.08,270],[2011.1,380],[2011.13,210],[2011.16,300],[2011.2,150],[2011.24,240],[2011.28,110],[2011.32,180],[2011.36,70],[2011.4,130],[2011.44,40],[2011.48,90],[2011.52,60],[2011.56,110],[2011.6,80],[2011.64,150],[2011.68,100],[2011.72,190],[2011.76,140],[2011.8,240],[2011.84,180],[2011.88,290],[2011.92,230],[2011.96,360],
  [2012.01,460],[2012.03,350],[2012.05,280],[2012.08,420],[2012.1,230],[2012.13,320],[2012.16,170],[2012.2,250],[2012.24,120],[2012.28,190],[2012.32,80],[2012.36,140],[2012.4,50],[2012.44,100],[2012.48,30],[2012.52,70],[2012.56,40],[2012.6,110],[2012.64,60],[2012.68,140],[2012.72,90],[2012.76,180],[2012.8,130],[2012.84,230],[2012.88,170],[2012.92,300],[2012.96,380],
  [2013.01,430],[2013.03,330],[2013.05,500],[2013.08,260],[2013.1,360],[2013.13,200],[2013.16,290],[2013.2,150],[2013.24,220],[2013.28,100],[2013.32,170],[2013.36,60],[2013.4,120],[2013.44,30],[2013.48,80],[2013.52,50],[2013.56,100],[2013.6,70],[2013.64,140],[2013.68,90],[2013.72,180],[2013.76,130],[2013.8,220],[2013.84,170],[2013.88,280],[2013.92,210],[2013.96,350],
  [2014.01,420],[2014.03,320],[2014.05,260],[2014.08,390],[2014.1,220],[2014.13,300],[2014.16,160],[2014.2,230],[2014.24,110],[2014.28,180],[2014.32,70],[2014.36,130],[2014.4,40],[2014.44,90],[2014.48,20],[2014.52,60],[2014.56,30],[2014.6,100],[2014.64,60],[2014.68,130],[2014.72,90],[2014.76,170],[2014.8,120],[2014.84,220],[2014.88,160],[2014.92,280],[2014.96,360],
  [2015.01,400],[2015.03,310],[2015.05,480],[2015.08,250],[2015.1,340],[2015.13,190],[2015.16,270],[2015.2,140],[2015.24,210],[2015.28,90],[2015.32,160],[2015.36,60],[2015.4,110],[2015.44,30],[2015.48,70],[2015.52,20],[2015.56,90],[2015.6,50],[2015.64,120],[2015.68,80],[2015.72,160],[2015.76,110],[2015.8,200],[2015.84,150],[2015.88,260],[2015.92,200],[2015.96,330],
  [2016.01,380],[2016.03,300],[2016.05,240],[2016.08,350],[2016.1,200],[2016.13,280],[2016.16,150],[2016.2,210],[2016.24,100],[2016.28,160],[2016.32,60],[2016.36,120],[2016.4,30],[2016.44,80],[2016.48,20],[2016.52,50],[2016.56,10],[2016.6,80],[2016.64,40],[2016.68,110],[2016.72,70],[2016.76,150],[2016.8,100],[2016.84,190],[2016.88,140],[2016.92,250],[2016.96,320],[2016.99,200],
  // upper side of the cloud
  [2001.62,170],[2001.68,220],[2001.74,260],[2001.78,300],[2001.82,340],[2001.88,380],[2001.92,330],[2001.97,460],
  [2002.02,480],[2002.06,420],[2002.09,510],[2002.12,440],[2002.15,390],[2002.18,460],[2002.22,360],[2002.26,400],[2002.3,300],[2002.34,330],[2002.38,240],[2002.42,270],[2002.46,200],[2002.5,230],[2002.55,190],[2002.6,220],[2002.65,200],[2002.7,260],[2002.74,240],[2002.78,310],[2002.82,290],[2002.86,370],[2002.9,340],[2002.94,430],[2002.98,410],
  [2003.02,500],[2003.06,440],[2003.09,470],[2003.12,400],[2003.15,450],[2003.18,370],[2003.22,410],[2003.26,330],[2003.3,350],[2003.34,270],[2003.38,300],[2003.42,220],[2003.46,250],[2003.5,170],[2003.55,210],[2003.6,180],[2003.65,240],[2003.7,210],[2003.74,280],[2003.78,250],[2003.82,330],[2003.86,300],[2003.9,390],[2003.94,360],[2003.98,450],
  [2004.02,460],[2004.06,500],[2004.09,420],[2004.12,470],[2004.15,380],[2004.18,430],[2004.22,340],[2004.26,370],[2004.3,280],[2004.34,310],[2004.38,230],[2004.42,260],[2004.46,190],[2004.5,220],[2004.55,170],[2004.6,210],[2004.65,190],[2004.7,250],[2004.74,220],[2004.78,290],[2004.82,270],[2004.86,350],[2004.9,320],[2004.94,410],[2004.98,390],
  [2005.02,440],[2005.06,400],[2005.09,480],[2005.12,420],[2005.15,370],[2005.18,440],[2005.22,340],[2005.26,380],[2005.3,290],[2005.34,320],[2005.38,230],[2005.42,260],[2005.46,190],[2005.5,220],[2005.55,180],[2005.6,210],[2005.65,190],[2005.7,250],[2005.74,230],[2005.78,300],[2005.82,280],[2005.86,350],[2005.9,330],[2005.94,410],[2005.98,390],
  [2006.02,470],[2006.06,420],[2006.09,450],[2006.12,390],[2006.15,430],[2006.18,350],[2006.22,390],[2006.26,310],[2006.3,340],[2006.34,260],[2006.38,290],[2006.42,210],[2006.46,240],[2006.5,160],[2006.55,200],[2006.6,170],[2006.65,230],[2006.7,200],[2006.74,270],[2006.78,240],[2006.82,310],[2006.86,290],[2006.9,370],[2006.94,340],[2006.98,430],
  [2007.02,430],[2007.06,470],[2007.09,400],[2007.12,450],[2007.15,360],[2007.18,410],[2007.22,320],[2007.26,350],[2007.3,270],[2007.34,300],[2007.38,210],[2007.42,240],[2007.46,170],[2007.5,200],[2007.55,150],[2007.6,190],[2007.65,170],[2007.7,230],[2007.74,200],[2007.78,270],[2007.82,250],[2007.86,330],[2007.9,300],[2007.94,390],[2007.98,370],
  [2008.02,420],[2008.06,380],[2008.09,450],[2008.12,400],[2008.15,350],[2008.18,420],[2008.22,320],[2008.26,360],[2008.3,270],[2008.34,300],[2008.38,210],[2008.42,240],[2008.46,170],[2008.5,200],[2008.55,150],[2008.6,190],[2008.65,170],[2008.7,230],[2008.74,210],[2008.78,280],[2008.82,260],[2008.86,330],[2008.9,310],[2008.94,390],[2008.98,370],
  [2009.02,440],[2009.06,390],[2009.09,420],[2009.12,370],[2009.15,410],[2009.18,330],[2009.22,370],[2009.26,290],[2009.3,320],[2009.34,240],[2009.38,270],[2009.42,190],[2009.46,220],[2009.5,140],[2009.55,180],[2009.6,150],[2009.65,210],[2009.7,180],[2009.74,250],[2009.78,220],[2009.82,290],[2009.86,270],[2009.9,350],[2009.94,320],[2009.98,400],
  [2010.02,400],[2010.06,440],[2010.09,370],[2010.12,420],[2010.15,340],[2010.18,380],[2010.22,300],[2010.26,330],[2010.3,250],[2010.34,280],[2010.38,190],[2010.42,220],[2010.46,150],[2010.5,180],[2010.55,130],[2010.6,170],[2010.65,150],[2010.7,210],[2010.74,190],[2010.78,260],[2010.82,240],[2010.86,310],[2010.9,290],[2010.94,370],[2010.98,350],
  [2011.02,400],[2011.06,360],[2011.09,430],[2011.12,380],[2011.15,330],[2011.18,390],[2011.22,300],[2011.26,340],[2011.3,250],[2011.34,280],[2011.38,190],[2011.42,220],[2011.46,150],[2011.5,180],[2011.55,130],[2011.6,170],[2011.65,150],[2011.7,210],[2011.74,190],[2011.78,260],[2011.82,240],[2011.86,310],[2011.9,290],[2011.94,360],[2011.98,340],
  [2012.02,420],[2012.06,370],[2012.09,400],[2012.12,350],[2012.15,390],[2012.18,310],[2012.22,350],[2012.26,270],[2012.3,300],[2012.34,220],[2012.38,250],[2012.42,170],[2012.46,200],[2012.5,120],[2012.55,160],[2012.6,130],[2012.65,190],[2012.7,160],[2012.74,230],[2012.78,200],[2012.82,270],[2012.86,250],[2012.9,330],[2012.94,300],[2012.98,380],
  [2013.02,380],[2013.06,420],[2013.09,350],[2013.12,400],[2013.15,320],[2013.18,360],[2013.22,280],[2013.26,310],[2013.3,230],[2013.34,260],[2013.38,170],[2013.42,200],[2013.46,130],[2013.5,160],[2013.55,110],[2013.6,150],[2013.65,130],[2013.7,190],[2013.74,170],[2013.78,240],[2013.82,220],[2013.86,290],[2013.9,270],[2013.94,350],[2013.98,330],
  [2014.02,370],[2014.06,330],[2014.09,400],[2014.12,350],[2014.15,300],[2014.18,360],[2014.22,270],[2014.26,310],[2014.3,220],[2014.34,250],[2014.38,160],[2014.42,190],[2014.46,120],[2014.5,150],[2014.55,100],[2014.6,140],[2014.65,120],[2014.7,180],[2014.74,160],[2014.78,230],[2014.82,210],[2014.86,280],[2014.9,260],[2014.94,330],[2014.98,310],
  [2015.02,380],[2015.06,340],[2015.09,370],[2015.12,320],[2015.15,360],[2015.18,280],[2015.22,320],[2015.26,240],[2015.3,270],[2015.34,190],[2015.38,220],[2015.42,140],[2015.46,170],[2015.5,100],[2015.55,130],[2015.6,110],[2015.65,160],[2015.7,140],[2015.74,200],[2015.78,180],[2015.82,250],[2015.86,230],[2015.9,300],[2015.94,280],[2015.98,350],
  [2016.02,340],[2016.06,380],[2016.09,310],[2016.12,360],[2016.15,280],[2016.18,320],[2016.22,240],[2016.26,270],[2016.3,190],[2016.34,220],[2016.38,140],[2016.42,170],[2016.46,100],[2016.5,130],[2016.55,80],[2016.6,120],[2016.65,100],[2016.7,160],[2016.74,140],[2016.78,210],[2016.82,190],[2016.86,260],[2016.9,240],[2016.94,300],[2016.98,280],
  // high values
  [2001.95,1351],[2001.96,1155],[2002.03,1232],[2002.02,1167],[2003.0,1455],[2002.98,1335],[2002.99,1082],[2002.97,1022],[2002.87,938],[2002.9,818],[2001.84,825],[2002.17,914],[2001.79,705],[2002.12,751],[2003.17,765],[2004.16,1005],[2003.96,926],[2004.06,722],[2004.87,902],[2001.61,553],[2002.26,781],
  [2006.07,1428],[2006.08,1162],[2008.94,1155],[2008.95,1174],[2010.06,1061],[2014.92,1051],[2005.89,867],[2005.99,797],[2006.0,880],[2006.91,745],[2008.13,702],[2008.98,926],[2009.05,844],[2010.0,844],[2010.12,926],[2010.98,942],[2011.08,714],[2011.87,797],[2012.09,930],[2012.8,749],[2013.05,797],[2013.86,643],[2014.9,879],[2015.13,749],[2016.06,678],[2016.18,502],[2016.79,384],
];
// denser, looser part of the CH0005 cloud
const chDotsLoose = [
  [2002.013,540],[2002.047,310],[2002.088,370],[2002.117,580],[2002.143,260],[2002.171,340],[2002.209,460],[2002.238,230],[2002.262,180],[2002.291,390],[2002.318,160],[2002.352,270],[2002.389,100],[2002.421,200],[2002.448,300],[2002.473,110],[2002.533,220],[2002.566,170],[2002.627,260],[2002.654,120],[2002.689,320],[2002.716,160],[2002.772,370],[2002.801,230],[2002.836,440],[2002.862,290],[2002.917,510],[2002.948,270],[2002.978,340],
  [2003.021,510],[2003.052,330],[2003.094,390],[2003.121,540],[2003.148,240],[2003.176,360],[2003.204,430],[2003.233,250],[2003.267,190],[2003.296,360],[2003.323,170],[2003.357,250],[2003.384,110],[2003.416,210],[2003.443,280],[2003.478,120],[2003.528,200],[2003.571,150],[2003.622,270],[2003.659,130],[2003.684,300],[2003.721,170],[2003.767,350],[2003.806,240],[2003.831,420],[2003.867,300],[2003.912,490],[2003.943,280],[2003.983,360],
  [2004.017,530],[2004.043,290],[2004.083,350],[2004.112,560],[2004.139,270],[2004.166,320],[2004.213,440],[2004.242,210],[2004.258,170],[2004.287,370],[2004.314,140],[2004.348,250],[2004.393,90],[2004.426,180],[2004.452,280],[2004.469,100],[2004.538,210],[2004.561,150],[2004.631,240],[2004.649,110],[2004.694,300],[2004.712,150],[2004.777,350],[2004.797,210],[2004.841,420],[2004.858,270],[2004.921,490],[2004.952,250],[2004.973,320],
  [2005.011,500],[2005.049,300],[2005.091,350],[2005.119,530],[2005.146,240],[2005.174,320],[2005.206,420],[2005.236,210],[2005.265,160],[2005.294,350],[2005.321,140],[2005.355,240],[2005.386,90],[2005.419,180],[2005.446,270],[2005.476,100],[2005.531,190],[2005.569,150],[2005.624,230],[2005.657,110],[2005.687,290],[2005.718,150],[2005.769,340],[2005.803,210],[2005.833,400],[2005.865,270],[2005.914,470],[2005.946,250],[2005.981,320],
  [2006.015,490],[2006.045,290],[2006.086,340],[2006.115,520],[2006.141,230],[2006.169,310],[2006.211,410],[2006.24,200],[2006.26,150],[2006.289,340],[2006.316,130],[2006.35,230],[2006.391,80],[2006.423,170],[2006.45,260],[2006.471,90],[2006.535,180],[2006.564,140],[2006.629,220],[2006.652,100],[2006.691,280],[2006.714,140],[2006.774,330],[2006.799,200],[2006.838,390],[2006.86,260],[2006.919,460],[2006.95,240],[2006.976,310],
  [2007.013,470],[2007.047,280],[2007.088,330],[2007.117,500],[2007.143,220],[2007.171,300],[2007.209,400],[2007.238,190],[2007.262,140],[2007.291,330],[2007.318,120],[2007.352,220],[2007.389,70],[2007.421,160],[2007.448,250],[2007.473,80],[2007.533,170],[2007.566,130],[2007.627,210],[2007.654,90],[2007.689,270],[2007.716,130],[2007.772,320],[2007.801,190],[2007.836,380],[2007.862,250],[2007.917,450],[2007.948,230],[2007.978,300],
  [2008.021,460],[2008.052,290],[2008.094,340],[2008.121,480],[2008.148,210],[2008.176,310],[2008.204,380],[2008.233,200],[2008.267,150],[2008.296,310],[2008.323,130],[2008.357,210],[2008.384,80],[2008.416,170],[2008.443,240],[2008.478,90],[2008.528,160],[2008.571,120],[2008.622,220],[2008.659,100],[2008.684,260],[2008.721,140],[2008.767,310],[2008.806,200],[2008.831,370],[2008.867,260],[2008.912,440],[2008.943,240],[2008.983,310],
  [2009.017,450],[2009.043,260],[2009.083,310],[2009.112,480],[2009.139,220],[2009.166,290],[2009.213,380],[2009.242,180],[2009.258,140],[2009.287,320],[2009.314,110],[2009.348,210],[2009.393,70],[2009.426,150],[2009.452,240],[2009.469,80],[2009.538,170],[2009.561,120],[2009.631,200],[2009.649,90],[2009.694,260],[2009.712,120],[2009.777,300],[2009.797,180],[2009.841,370],[2009.858,240],[2009.921,430],[2009.952,220],[2009.973,290],
  [2010.011,440],[2010.049,260],[2010.091,300],[2010.119,460],[2010.146,200],[2010.174,280],[2010.206,370],[2010.236,170],[2010.265,130],[2010.294,300],[2010.321,110],[2010.355,200],[2010.386,60],[2010.419,140],[2010.446,230],[2010.476,70],[2010.531,160],[2010.569,110],[2010.624,190],[2010.657,80],[2010.687,250],[2010.718,120],[2010.769,290],[2010.803,170],[2010.833,350],[2010.865,230],[2010.914,410],[2010.946,210],[2010.981,280],
  [2011.015,430],[2011.045,250],[2011.086,290],[2011.115,450],[2011.141,190],[2011.169,270],[2011.211,360],[2011.24,160],[2011.26,120],[2011.289,290],[2011.316,100],[2011.35,190],[2011.391,60],[2011.423,130],[2011.45,220],[2011.471,70],[2011.535,150],[2011.564,100],[2011.629,180],[2011.652,80],[2011.691,240],[2011.714,110],[2011.774,280],[2011.799,160],[2011.838,340],[2011.86,220],[2011.919,400],[2011.95,200],[2011.976,270],
  [2012.013,420],[2012.047,240],[2012.088,280],[2012.117,440],[2012.143,180],[2012.171,260],[2012.209,350],[2012.238,150],[2012.262,110],[2012.291,280],[2012.318,90],[2012.352,180],[2012.389,50],[2012.421,120],[2012.448,210],[2012.473,60],[2012.533,140],[2012.566,90],[2012.627,170],[2012.654,70],[2012.689,230],[2012.716,100],[2012.772,270],[2012.801,150],[2012.836,330],[2012.862,210],[2012.917,390],[2012.948,190],[2012.978,260],
  [2013.021,400],[2013.052,240],[2013.094,290],[2013.121,420],[2013.148,170],[2013.176,260],[2013.204,330],[2013.233,150],[2013.267,110],[2013.296,260],[2013.323,90],[2013.357,170],[2013.384,50],[2013.416,120],[2013.443,200],[2013.478,60],[2013.528,130],[2013.571,80],[2013.622,170],[2013.659,60],[2013.684,220],[2013.721,100],[2013.767,260],[2013.806,150],[2013.831,320],[2013.867,210],[2013.912,380],[2013.943,190],[2013.983,260],
  [2014.017,390],[2014.043,220],[2014.083,270],[2014.112,420],[2014.139,170],[2014.166,240],[2014.213,330],[2014.242,130],[2014.258,100],[2014.287,260],[2014.314,70],[2014.348,160],[2014.393,40],[2014.426,110],[2014.452,190],[2014.469,50],[2014.538,130],[2014.561,70],[2014.631,150],[2014.649,50],[2014.694,210],[2014.712,80],[2014.777,250],[2014.797,130],[2014.841,310],[2014.858,190],[2014.921,370],[2014.952,170],[2014.973,240],
  [2015.011,370],[2015.049,210],[2015.091,250],[2015.119,400],[2015.146,150],[2015.174,230],[2015.206,310],[2015.236,120],[2015.265,90],[2015.294,240],[2015.321,70],[2015.355,150],[2015.386,30],[2015.419,100],[2015.446,180],[2015.476,40],[2015.531,110],[2015.569,60],[2015.624,140],[2015.657,40],[2015.687,190],[2015.718,70],[2015.769,230],[2015.803,120],[2015.833,290],[2015.865,170],[2015.914,350],[2015.946,160],[2015.981,230],
  [2016.015,350],[2016.045,200],[2016.086,240],[2016.115,380],[2016.141,140],[2016.169,210],[2016.211,290],[2016.24,110],[2016.26,80],[2016.289,220],[2016.316,60],[2016.35,140],[2016.391,30],[2016.423,90],[2016.45,160],[2016.471,30],[2016.535,90],[2016.564,40],[2016.629,120],[2016.652,30],[2016.691,170],[2016.714,60],[2016.774,210],[2016.799,110],[2016.838,270],[2016.86,160],[2016.919,330],[2016.95,150],[2016.976,220],
];

// ---------- FR0015 La Tardiere ----------
const frtBlackPeaks = [453, 453, 453, 450, 443, 437, 437, 431, 422, 412, 400, 400, 390, 381, 375, 368, 359];
const frtBlackTroughs = [150, 140, 140, 140, 140, 118, 131, 118, 106, 106, 106, 94, 78, 69, 62, 56, 47];
const frtRedPeaks = [566, 537, 515, 500, 484, 453, 437, 422, 412, 406, 390, 375, 359, 344, 328, 319, 312];
const frtRedTroughs = [94, 90, 90, 90, 90, 78, 78, 78, 69, 69, 78, 69, 69, 69, 62, 56, 56];
const frtEnds = { black: [450, 306], red: [556, 297] };
const frtDots = [
  [2002.02,480],[2002.05,380],[2002.08,430],[2002.12,300],[2002.18,250],[2002.25,180],[2002.32,120],[2002.4,60],[2002.46,40],[2002.52,80],[2002.58,30],[2002.65,110],[2002.72,170],[2002.8,240],[2002.88,320],[2002.94,400],
  [2003.02,460],[2003.06,400],[2003.1,340],[2003.16,280],[2003.22,200],[2003.3,130],[2003.36,80],[2003.42,60],[2003.5,40],[2003.56,70],[2003.62,50],[2003.7,120],[2003.78,200],[2003.85,270],[2003.92,360],[2003.97,420],
  [2004.02,450],[2004.06,380],[2004.12,330],[2004.18,260],[2004.24,190],[2004.3,140],[2004.38,80],[2004.45,50],[2004.52,30],[2004.6,70],[2004.68,110],[2004.76,180],[2004.84,250],[2004.9,320],[2004.96,400],
  [2005.02,420],[2005.06,480],[2005.1,360],[2005.16,300],[2005.24,200],[2005.32,120],[2005.4,70],[2005.48,40],[2005.56,60],[2005.64,100],[2005.72,150],[2005.8,230],[2005.88,330],[2005.95,400],
  [2006.03,450],[2006.07,390],[2006.12,330],[2006.2,240],[2006.28,160],[2006.36,100],[2006.44,60],[2006.52,40],[2006.6,70],[2006.68,130],[2006.76,180],[2006.84,260],[2006.9,330],[2006.96,400],
  [2007.02,430],[2007.06,380],[2007.12,320],[2007.2,230],[2007.28,150],[2007.36,90],[2007.44,50],[2007.52,30],[2007.6,60],[2007.68,110],[2007.76,170],[2007.84,250],[2007.9,320],[2007.96,390],
  [2008.02,420],[2008.07,370],[2008.13,300],[2008.2,220],[2008.28,140],[2008.36,80],[2008.44,40],[2008.52,20],[2008.6,50],[2008.68,100],[2008.76,160],[2008.84,240],[2008.9,310],[2008.95,380],
  [2009.03,420],[2009.07,380],[2009.12,320],[2009.2,230],[2009.28,150],[2009.36,90],[2009.44,50],[2009.52,40],[2009.6,70],[2009.68,110],[2009.76,170],[2009.84,250],[2009.9,320],[2009.96,380],
  [2010.02,420],[2010.06,360],[2010.12,300],[2010.2,220],[2010.28,140],[2010.36,80],[2010.44,50],[2010.52,30],[2010.6,60],[2010.68,100],[2010.76,160],[2010.84,230],[2010.9,300],[2010.96,360],
  [2011.03,400],[2011.07,350],[2011.12,290],[2011.2,200],[2011.28,130],[2011.36,70],[2011.44,40],[2011.52,20],[2011.6,50],[2011.68,90],[2011.76,150],[2011.84,220],[2011.9,290],[2011.96,350],
  [2012.02,380],[2012.06,330],[2012.12,280],[2012.2,200],[2012.28,120],[2012.36,70],[2012.44,40],[2012.52,20],[2012.6,40],[2012.68,80],[2012.76,140],[2012.84,210],[2012.9,270],[2012.96,340],
  [2013.02,370],[2013.06,330],[2013.12,270],[2013.2,190],[2013.28,110],[2013.36,60],[2013.44,30],[2013.52,20],[2013.6,40],[2013.68,70],[2013.76,130],
  [2014.56,30],[2014.62,50],[2014.7,80],[2014.78,140],[2014.84,200],[2014.9,260],[2014.96,330],
  [2015.02,360],[2015.06,300],[2015.12,250],[2015.2,180],[2015.28,110],[2015.36,60],[2015.44,30],[2015.52,20],[2015.6,40],[2015.68,70],[2015.76,120],[2015.84,190],[2015.9,250],[2015.96,310],
  [2016.02,340],[2016.06,290],[2016.12,240],[2016.2,170],[2016.28,100],[2016.36,50],[2016.44,30],[2016.52,20],[2016.6,30],[2016.68,60],[2016.76,110],[2016.84,170],[2016.9,230],[2016.96,300],
  // upper side of the cloud
  [2002.1,500],[2002.16,420],[2002.22,380],[2002.3,280],[2002.38,200],[2002.6,150],[2002.7,220],[2002.78,300],[2002.86,380],[2002.92,460],[2002.97,520],
  [2003.08,520],[2003.14,400],[2003.2,350],[2003.28,260],[2003.36,180],[2003.62,140],[2003.7,200],[2003.78,290],[2003.86,360],[2003.92,430],
  [2004.04,520],[2004.1,460],[2004.16,380],[2004.26,300],[2004.34,200],[2004.62,130],[2004.72,210],[2004.8,280],[2004.88,370],[2004.94,450],
  [2005.04,440],[2005.12,420],[2005.2,340],[2005.28,250],[2005.36,170],[2005.62,120],[2005.72,190],[2005.8,280],[2005.88,380],[2005.94,450],
  [2006.05,480],[2006.1,420],[2006.18,360],[2006.26,280],[2006.34,190],[2006.62,110],[2006.72,180],[2006.8,270],[2006.88,350],[2006.94,420],
  [2007.04,470],[2007.1,410],[2007.18,330],[2007.26,260],[2007.34,170],[2007.62,110],[2007.72,190],[2007.8,260],[2007.88,350],[2007.94,430],
  [2008.04,450],[2008.1,400],[2008.18,320],[2008.26,240],[2008.34,160],[2008.62,100],[2008.72,170],[2008.8,260],[2008.88,340],[2008.94,410],
  [2009.05,460],[2009.1,400],[2009.18,310],[2009.26,240],[2009.34,160],[2009.62,100],[2009.72,170],[2009.8,250],[2009.88,340],[2009.94,410],
  [2010.04,430],[2010.1,380],[2010.18,300],[2010.26,230],[2010.34,150],[2010.62,100],[2010.72,160],[2010.8,250],[2010.88,330],[2010.94,400],
  [2011.05,430],[2011.1,370],[2011.18,290],[2011.26,220],[2011.34,140],[2011.62,90],[2011.72,150],[2011.8,230],[2011.88,310],[2011.94,380],
  [2012.04,410],[2012.1,350],[2012.18,280],[2012.26,200],[2012.34,130],[2012.62,80],[2012.72,140],[2012.8,220],[2012.88,300],[2012.94,370],
  [2013.04,400],[2013.1,340],[2013.18,270],[2013.26,190],[2013.34,120],[2013.62,70],[2013.72,140],
  [2014.62,80],[2014.72,140],[2014.8,210],[2014.88,280],[2014.94,350],
  [2015.04,380],[2015.1,320],[2015.18,250],[2015.26,170],[2015.34,100],[2015.62,60],[2015.72,120],[2015.8,190],[2015.88,270],[2015.94,330],
  [2016.04,360],[2016.1,300],[2016.18,230],[2016.26,160],[2016.34,90],[2016.62,50],[2016.72,110],[2016.8,180],[2016.88,250],[2016.94,320],
  // high values
  [2003.93,1884],[2003.94,1493],[2003.02,1469],[2001.99,969],[2003.0,959],[2002.89,953],[2002.9,890],[2004.1,947],[2003.89,797],[2003.95,719],[2002.17,775],[2002.34,712],[2002.36,700],[2002.78,625],[2003.08,719],[2003.2,662],[2004.09,731],[2004.84,787],[2004.93,719],
  [2006.02,1631],[2005.89,1288],[2005.93,1119],[2006.08,931],[2005.96,859],[2005.02,906],[2005.12,750],[2009.0,931],[2008.97,859],[2009.02,650],[2010.0,781],[2010.12,575],[2006.95,669],[2007.93,637],[2010.89,644],[2011.06,609],[2012.1,812],[2012.8,650],[2013.15,662],[2014.92,844],[2014.9,578],[2015.12,537],[2016.26,537],[2016.95,453],
];

// ---------- FR0013 Peyrusse Vieille ----------
const frpBlackPeaks = [425, 420, 415, 415, 415, 410, 405, 400, 395, 390, 385, 380, 378, 364, 370, 359, 359];
const frpBlackTroughs = [127, 125, 122, 120, 118, 116, 114, 112, 110, 108, 105, 102, 95, 87, 61, 47, 47];
const frpRedPeaks = [354, 350, 348, 345, 345, 343, 340, 340, 338, 336, 335, 335, 344, 335, 350, 307, 335];
const frpRedTroughs = [71, 70, 70, 68, 68, 67, 66, 65, 64, 63, 62, 62, 71, 60, 45, 33, 33];
const frpEnds = { black: [415, 335], red: [345, 320] };
const frpDots = [
  [2000.01,480],[2000.03,420],[2000.06,380],[2000.1,300],[2000.15,250],[2000.2,200],[2000.28,150],[2000.35,100],[2000.42,50],[2000.48,20],[2000.55,10],[2000.62,40],[2000.7,80],[2000.78,150],[2000.85,230],[2000.92,300],[2000.97,350],
  [2001.03,420],[2001.08,330],[2001.14,280],[2001.22,200],[2001.3,130],[2001.38,80],[2001.46,40],[2001.54,20],[2001.62,50],[2001.7,90],[2001.78,150],[2001.86,220],[2001.94,300],
  [2002.02,350],[2002.08,300],[2002.16,230],[2002.24,160],[2002.32,100],[2002.42,50],[2002.5,20],[2002.58,40],[2002.66,80],[2002.74,130],[2002.82,200],[2002.9,270],[2002.96,320],
  [2003.03,380],[2003.08,330],[2003.16,250],[2003.24,170],[2003.32,110],[2003.42,50],[2003.5,30],[2003.58,40],[2003.66,70],[2003.74,120],[2003.82,200],[2003.9,280],[2003.96,350],
  [2004.02,430],[2004.08,350],[2004.16,260],[2004.24,180],[2004.32,110],[2004.42,60],[2004.5,30],[2004.58,50],[2004.66,90],[2004.74,140],[2004.82,210],[2004.9,280],[2004.96,330],
  [2005.03,400],[2005.08,320],[2005.16,240],[2005.24,170],[2005.32,100],[2005.42,50],[2005.5,20],[2005.58,40],[2005.66,80],[2005.74,130],[2005.82,190],[2005.9,260],[2005.96,330],
  [2006.02,370],[2006.08,310],[2006.16,240],[2006.24,160],[2006.32,100],[2006.42,50],[2006.5,30],[2006.58,40],[2006.66,80],[2006.74,130],[2006.82,200],[2006.9,270],[2006.96,340],
  [2007.03,380],[2007.08,320],[2007.16,250],[2007.24,170],[2007.32,100],[2007.42,60],[2007.5,30],[2007.58,40],[2007.66,70],[2007.74,120],[2007.82,190],[2007.9,260],[2007.96,320],
  [2008.02,350],[2008.08,300],[2008.16,230],[2008.24,160],[2008.32,90],[2008.42,50],[2008.5,20],[2008.58,30],[2008.66,70],[2008.74,120],[2008.82,180],[2008.9,250],[2008.96,320],
  [2009.03,370],[2009.08,310],[2009.16,240],[2009.24,160],[2009.32,100],[2009.42,50],[2009.5,20],[2009.58,40],[2009.66,80],[2009.74,130],[2009.82,190],[2009.9,260],[2009.96,320],
  [2010.02,360],[2010.08,300],[2010.16,230],[2010.24,150],[2010.32,90],[2010.42,50],[2010.5,20],[2010.58,40],[2010.66,70],[2010.74,120],[2010.82,180],[2010.9,250],[2010.96,310],
  [2011.03,350],[2011.08,290],[2011.16,220],[2011.24,150],[2011.32,90],[2011.42,40],[2011.5,20],[2011.58,30],[2011.66,60],[2011.74,110],[2011.82,170],[2011.9,240],[2011.96,300],
  [2012.02,360],[2012.08,310],[2012.16,230],[2012.24,150],[2012.32,80],[2012.42,40],[2012.5,20],[2012.58,30],[2012.66,60],[2012.74,110],[2012.82,170],[2012.9,240],[2012.96,300],
  [2013.03,360],[2013.08,300],[2013.16,220],[2013.24,140],[2013.32,80],[2013.42,40],[2013.5,20],[2013.58,30],
  [2014.45,30],[2014.52,60],[2014.6,40],[2014.68,90],[2014.76,130],[2014.84,180],[2014.9,250],[2014.96,300],
  [2015.02,330],[2015.08,280],[2015.16,220],[2015.24,150],[2015.32,90],[2015.4,50],[2015.82,200],[2015.88,260],[2015.94,300],
  [2016.02,340],[2016.06,380],[2016.12,280],[2016.2,220],[2016.28,150],[2016.36,100],[2016.42,60],[2016.82,150],[2016.88,220],[2016.94,300],[2016.98,380],
  // upper side of the cloud
  [2000.12,440],[2000.24,330],[2000.66,130],[2000.82,290],[2000.95,420],
  [2001.12,400],[2001.26,300],[2001.66,120],[2001.82,270],[2001.97,400],
  [2002.12,380],[2002.26,310],[2002.66,110],[2002.82,260],[2002.98,390],
  [2003.12,400],[2003.26,300],[2003.66,120],[2003.82,280],[2003.98,420],
  [2004.12,410],[2004.26,290],[2004.66,130],[2004.82,260],[2004.98,400],
  [2005.12,390],[2005.26,300],[2005.66,110],[2005.82,270],[2005.98,380],
  [2006.12,380],[2006.26,290],[2006.66,120],[2006.82,260],[2006.98,390],
  [2007.12,380],[2007.26,280],[2007.66,110],[2007.82,250],[2007.98,380],
  [2008.12,370],[2008.26,280],[2008.66,100],[2008.82,250],[2008.98,370],
  [2009.12,380],[2009.26,270],[2009.66,110],[2009.82,260],[2009.98,380],
  [2010.12,370],[2010.26,270],[2010.66,100],[2010.82,240],[2010.98,370],
  [2011.12,360],[2011.26,260],[2011.66,100],[2011.82,240],[2011.98,360],
  [2012.12,380],[2012.26,270],[2012.66,90],[2012.82,240],[2012.98,370],
  [2013.12,360],[2013.26,250],[2014.8,200],[2014.94,340],[2015.12,330],[2015.26,240],[2015.9,290],[2016.1,360],[2016.24,260],[2016.9,290],
  // high values
  [2001.95,935],[2001.96,888],[2001.97,826],[2004.16,836],[2004.15,694],[2004.13,648],[2000.99,667],[2001.08,595],[2003.04,684],[2003.14,675],[2000.05,566],[2002.13,580],[2000.57,354],
  [2016.52,2573],[2012.13,802],[2012.11,637],[2012.19,661],[2012.92,670],[2013.07,495],[2013.16,448],[2014.92,580],[2016.81,613],[2016.87,613],[2012.49,316],[2011.03,1203],[2011.05,1094],[2010.2,547],[2009.0,703],
];

type Pt = { t: number; v: number };

function curve(start: number, perYear: number[][], phases: number[], end: number): Pt[] {
  const out: Pt[] = [{ t: 2000, v: start }];
  YEARS.forEach((y, i) => perYear[i].forEach((v, j) => out.push({ t: y + phases[j], v })));
  out.push({ t: 2017, v: end });
  return out;
}

const zipYears = (a: number[], b: number[]) => a.map((p, i) => [p, b[i]]);
const toPts = (d: number[][]): Pt[] => d.map(([t, v]) => ({ t, v }));

const panels = [
  {
    title: "n−butane FI0096 Pallas (Sammaltunturi) −25 % [−9,−37] for 2000−2016",
    yTicks: [0, 500, 1000, 1500, 2000],
    black: curve(fiEnds.black[0], fiBlack, FI_PHASES, fiEnds.black[1]),
    red: curve(fiEnds.red[0], fiRed, FI_PHASES, fiEnds.red[1]),
    dots: toPts(fiDots),
  },
  {
    title: "n−butane CZ0003 Kosetice (NOAK) −45 % [−35,−54] for 2000−2016",
    yTicks: [0, 500, 1000, 1500, 2000],
    black: curve(czEnds.black[0], zipYears(czBlackPeaks, czBlackTroughs), SINE_PHASES, czEnds.black[1]),
    red: curve(czEnds.red[0], zipYears(czRedPeaks, czRedTroughs), SINE_PHASES, czEnds.red[1]),
    dots: toPts(czDots),
  },
  {
    title: "n−butane DE0043 Hohenpeissenberg −18 % [−9,−26] for 2000−2016",
    yTicks: [0, 500, 1000, 1500],
    black: curve(deEnds.black[0], zipYears(deBlackPeaks, deBlackTroughs), SINE_PHASES, deEnds.black[1]),
    red: curve(deEnds.red[0], zipYears(deRedPeaks, deRedTroughs), SINE_PHASES, deEnds.red[1]),
    dots: toPts(deDots.concat(deDotsLoose)),
  },
  {
    title: "n−butane CH0005 Rigi −44 % [−38,−50] for 2000−2016",
    yTicks: [0, 500, 1000, 1500],
    black: curve(chEnds.black[0], zipYears(chBlackPeaks, chBlackTroughs), SINE_PHASES, chEnds.black[1]),
    red: curve(chEnds.red[0], zipYears(chRedPeaks, chRedTroughs), SINE_PHASES, chEnds.red[1]),
    dots: toPts(chDots.concat(chDotsLoose)),
  },
  {
    title: "n−butane FR0015 La Tardière −43 % [−29,−54] for 2000−2016",
    yTicks: [0, 500, 1000, 1500, 2000],
    black: curve(frtEnds.black[0], zipYears(frtBlackPeaks, frtBlackTroughs), SINE_PHASES, frtEnds.black[1]),
    red: curve(frtEnds.red[0], zipYears(frtRedPeaks, frtRedTroughs), SINE_PHASES, frtEnds.red[1]),
    dots: toPts(frtDots),
  },
  {
    title: "n−butane FR0013 Peyrusse Vieille no sig change for 2000−2016",
    yTicks: [0, 500, 1000, 1500, 2000, 2500, 3000],
    black: curve(frpEnds.black[0], zipYears(frpBlackPeaks, frpBlackTroughs), SINE_PHASES, frpEnds.black[1]),
    red: curve(frpEnds.red[0], zipYears(frpRedPeaks, frpRedTroughs), SINE_PHASES, frpEnds.red[1]),
    dots: toPts(frpDots),
  },
];

const PANEL_TOPS = [0, 291, 584, 876, 1169, 1460];
const FONT = "'Liberation Sans', Arial, sans-serif";

const BlueDot = (props: any) => <circle cx={props.cx} cy={props.cy} r={1.5} fill="#0000ff" />;

function Panel({ p, top }: { p: (typeof panels)[number]; top: number }) {
  const yMax = p.yTicks[p.yTicks.length - 1];
  return (
    <div style={{ position: "absolute", left: 0, top, width: 1043, height: 292 }}>
      <div
        style={{
          position: "absolute",
          left: 73,
          width: 950,
          top: 10,
          height: 20,
          lineHeight: "20px",
          textAlign: "center",
          fontFamily: FONT,
          fontSize: 16,
          letterSpacing: 0.9,
          wordSpacing: 3,
          color: "#000",
          whiteSpace: "nowrap",
        }}
      >
        {p.title}
      </div>
      <ComposedChart width={1043} height={292} margin={{ top: 33, right: 20, bottom: 14, left: 13 }}>
        <CartesianGrid stroke="#000" strokeWidth={1.8} />
        <XAxis
          type="number"
          dataKey="t"
          domain={[2000, 2017]}
          ticks={YEAR_TICKS}
          interval={0}
          allowDataOverflow
          tickLine={false}
          axisLine={{ stroke: "#000", strokeWidth: 1.8 }}
          tick={{ fill: "#000", fontSize: 15, fontFamily: FONT }}
          tickSize={4}
          tickMargin={8}
          height={34}
        />
        <YAxis
          type="number"
          dataKey="v"
          domain={[0, yMax]}
          ticks={p.yTicks}
          interval={0}
          allowDataOverflow
          tickLine={false}
          axisLine={{ stroke: "#000", strokeWidth: 1.8 }}
          tick={{ fill: "#000", fontSize: 15, fontFamily: FONT }}
          tickSize={3}
          tickMargin={2}
          width={60}
          label={{
            value: "pmol/mol",
            angle: -90,
            position: "insideLeft",
            offset: 6,
            style: { textAnchor: "middle", fontSize: 16, fontFamily: FONT, fill: "#000" },
          }}
        />
        <Scatter data={p.dots} shape={BlueDot} isAnimationActive={false} />
        <Line data={p.red} dataKey="v" type="monotone" stroke="#ff0000" strokeWidth={2.4} dot={false} isAnimationActive={false} />
        <Line data={p.black} dataKey="v" type="monotone" stroke="#000000" strokeWidth={2.4} dot={false} isAnimationActive={false} />
      </ComposedChart>
    </div>
  );
}

export default function App() {
  return (
    <div style={{ position: "absolute", left: 0, top: 0, width: 1043, height: 1731, overflow: "hidden", background: "#fff" }}>
      {panels.map((p, i) => (
        <Panel key={i} p={p} top={PANEL_TOPS[i]} />
      ))}
    </div>
  );
}
